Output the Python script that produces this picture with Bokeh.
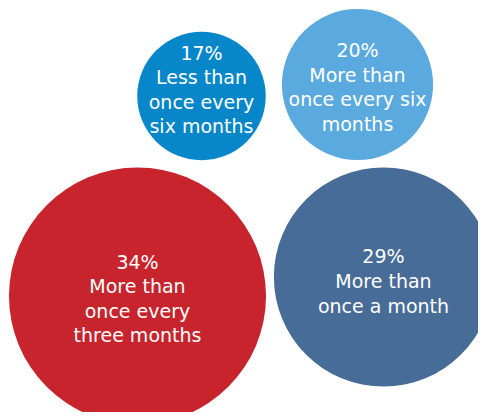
from bokeh.plotting import figure
from bokeh.models import Range1d, ColumnDataSource
from bokeh.core.properties import value
from bokeh.embed import file_html
from bokeh.resources import INLINE

# Data
shares = [17, 20, 34, 29]
labels = [
    "Less than\nonce every\nsix months",
    "More than\nonce every six\nmonths",
    "More than\nonce every\nthree months",
    "More than\nonce a month",
]

# Layout (pixel coordinates of bubble centres) and styles
cx = [201, 357, 137, 383]
cy = [95.5, 84, 295.5, 276.5]
text_dy = [-6.5, 2.5, 2.5, 4]
colors = ["#0787CA", "#5BAADF", "#C8242D", "#476C97"]
scale = 3.78  # radius per percentage point

src = ColumnDataSource(dict(
    x=cx, y=cy, r=[v * scale for v in shares], color=colors,
    ty=[y + d for y, d in zip(cy, text_dy)],
    txt=[f"{v}%\n{l}" for v, l in zip(shares, labels)],
))

p = figure(width=478, height=412, output_backend="svg", toolbar_location=None,
           x_range=Range1d(0, 478), y_range=Range1d(412, 0),
           min_border=0)
p.axis.visible = False
p.grid.visible = False
p.outline_line_color = None
p.background_fill_color = "white"
p.border_fill_color = "white"

p.circle(x="x", y="y", radius="r", fill_color="color", line_color=None, source=src)
p.text(x="x", y="ty", text="txt", source=src, text_color="white",
       text_font=value("DejaVu Sans"), text_font_size="19px",
       text_align="center", text_baseline="middle", text_line_height=1.12)

open("out.html", "w").write(file_html(p, INLINE))
